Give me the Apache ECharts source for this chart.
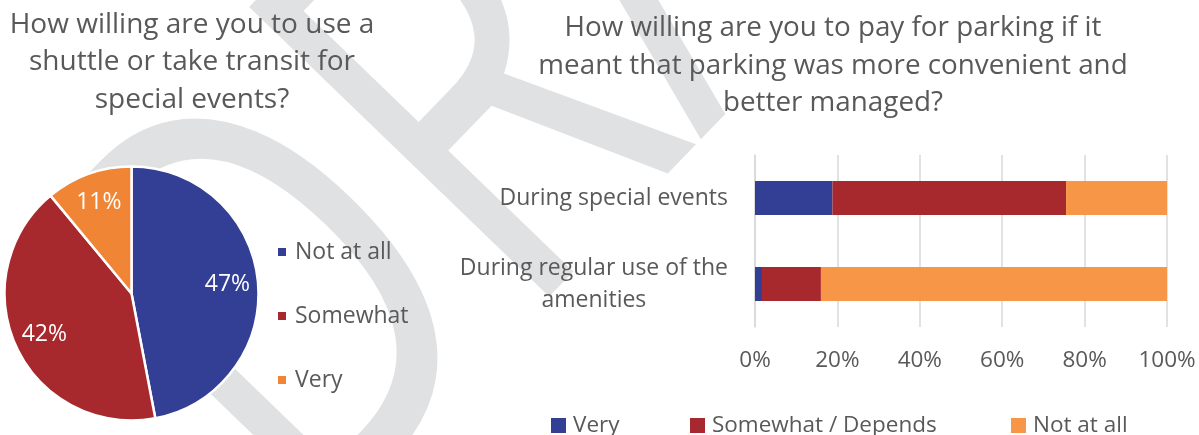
<!DOCTYPE html>
<html>
<head>
<meta charset="utf-8">
<script src="https://cdn.jsdelivr.net/npm/echarts@6/dist/echarts.min.js"></script>
<style>
  html, body { margin: 0; padding: 0; background: #ffffff; }
  #chart { width: 1199px; height: 435px; }
</style>
</head>
<body>
<div id="chart"></div>
<script>
// Shuttle / transit willingness (pie)
const pieTitle = 'How willing are you to use a\nshuttle or take transit for\nspecial events?';
const pieCategories = ['Not at all', 'Somewhat', 'Very'];
const pieValues = [47, 42, 11];

// Paying for better-managed parking (stacked bars, percent of respondents)
const barTitle = 'How willing are you to pay for parking if it\nmeant that parking was more convenient and\nbetter managed?';
const barCategories = ['During special events', 'During regular use of the\namenities'];
const barSeriesNames = ['Very', 'Somewhat / Depends', 'Not at all'];
const veryValues = [18.8, 1.7];
const somewhatValues = [56.7, 14.3];
const notAtAllValues = [24.5, 84.0];

const FONT = '"Open Sans", "DejaVu Sans", sans-serif';
const TEXT = '#595959';
const GRID = '#d9d9d9';
const pieColors = ['#333F94', '#A8292D', '#EF8535'];
const barColors = ['#333F94', '#A8292D', '#F69646'];
const PIE_CENTER = [131.5, 293.5];
const PIE_R = 127;

const chart = echarts.init(document.getElementById('chart'), null, { renderer: 'canvas' });

const pieData = pieCategories.map((name, i) => ({
  name: name, value: pieValues[i], itemStyle: { color: pieColors[i] }
}));

const barValueSets = [veryValues, somewhatValues, notAtAllValues];

const bottomLegendLeft = [551, 690, 1011];

const option = {
  animation: false,
  backgroundColor: '#ffffff',
  textStyle: { fontFamily: FONT },
  title: [
    {
      text: pieTitle, left: 192, top: 6, textAlign: 'center', padding: 0,
      textStyle: { fontFamily: FONT, fontSize: 28, fontWeight: 'normal', color: TEXT, lineHeight: 37.5 }
    },
    {
      text: barTitle, left: 833, top: 9, textAlign: 'center', padding: 0,
      textStyle: { fontFamily: FONT, fontSize: 27.8, fontWeight: 'normal', color: TEXT, lineHeight: 37.8 }
    }
  ],
  graphic: {
    elements: [{
      // diagonal "DRAFT" stamp behind both charts
      type: 'text', z: -10, silent: true,
      x: 189, y: 430, rotation: 0.803, scaleX: 0.72, scaleY: 1,
      style: {
        text: 'DRAFT', font: 'normal 584px "Open Sans", sans-serif',
        fill: '#e0e1e3', align: 'left', verticalAlign: 'middle'
      }
    }]
  },
  legend: [
    {
      orient: 'vertical', left: 276, top: 237, padding: 0, icon: 'rect',
      itemWidth: 10, itemHeight: 10, itemGap: 34, selectedMode: false,
      data: pieCategories.map((name, i) => ({
        name: name, itemStyle: { color: pieColors[i], borderColor: '#ffffff', borderWidth: 2 }
      })),
      textStyle: { fontFamily: FONT, fontSize: 23, color: TEXT, lineHeight: 30, padding: [0, 0, 0, 3] }
    }
  ].concat(barSeriesNames.map((name, i) => ({
    orient: 'horizontal', left: bottomLegendLeft[i], top: 414, padding: 0, icon: 'rect',
    itemWidth: 15, itemHeight: 15, selectedMode: false,
    data: [{ name: name, itemStyle: { color: barColors[i] } }],
    textStyle: { fontFamily: FONT, fontSize: 22.5, color: TEXT, lineHeight: 20, padding: [0, 0, 0, 2] }
  }))),
  grid: { left: 755, right: 32, top: 155, bottom: 108, containLabel: false },
  xAxis: {
    type: 'value', min: 0, max: 100, interval: 20,
    axisLine: { show: false }, axisTick: { show: false },
    splitLine: { show: true, lineStyle: { color: GRID, width: 1.5 } },
    axisLabel: { formatter: '{value}%', fontFamily: FONT, fontSize: 22.5, color: TEXT, margin: 22 }
  },
  yAxis: {
    type: 'category', inverse: true, data: barCategories,
    axisLine: { show: true, lineStyle: { color: GRID, width: 1.5 } },
    axisTick: { show: false },
    axisLabel: {
      margin: 27,
      formatter: (value) => value.split('\n').map(s => '{c|' + s + '}').join('\n'),
      rich: { c: { fontFamily: FONT, fontSize: 23, color: TEXT, align: 'center', lineHeight: 32 } }
    }
  },
  series: [
    {
      type: 'pie', center: PIE_CENTER, radius: [0, PIE_R], startAngle: 90, clockwise: true,
      data: pieData, silent: true,
      label: { show: false }, labelLine: { show: false },
      itemStyle: { borderColor: '#ffffff', borderWidth: 2.5 },
      emphasis: { disabled: true }
    },
    {
      // transparent ring that carries the percentage labels further out in each slice
      type: 'pie', center: PIE_CENTER, radius: [PIE_R * 0.47, PIE_R], startAngle: 90, clockwise: true,
      data: pieCategories.map((name, i) => ({ name: name, value: pieValues[i], itemStyle: { color: 'rgba(0,0,0,0)' } })),
      silent: true, z: 3,
      label: { show: true, position: 'inside', formatter: '{c}%', fontFamily: FONT, fontSize: 23, color: '#ffffff' },
      labelLine: { show: false },
      emphasis: { disabled: true }
    }
  ].concat(barSeriesNames.map((name, i) => ({
    type: 'bar', name: name, stack: 'total', barWidth: 34,
    data: barValueSets[i], itemStyle: { color: barColors[i] },
    silent: true, emphasis: { disabled: true }
  })))
};

chart.setOption(option);
</script>
</body>
</html>
